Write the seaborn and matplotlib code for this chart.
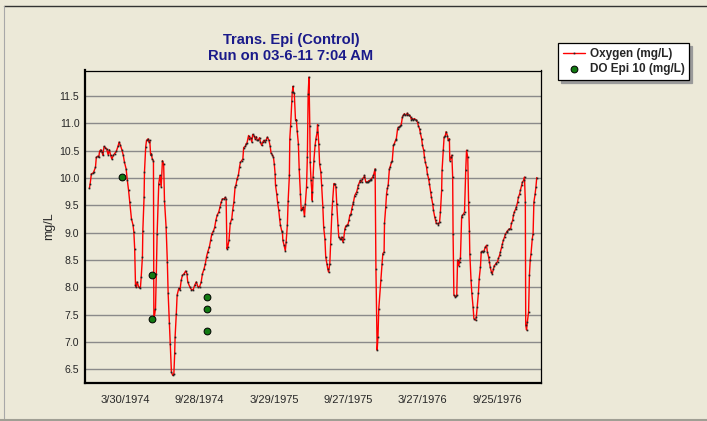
import numpy as np
import pandas as pd
import matplotlib
matplotlib.use("Agg")
import matplotlib.pyplot as plt
import matplotlib.dates as mdates
from matplotlib.lines import Line2D
import seaborn as sns

# ---------------- data ----------------
START = "1974-01-01"

# Oxygen (mg/L): day offset from START, and value
oxygen_days = [
    0, 2, 5, 9, 11, 15, 17, 20, 23, 25, 28, 31, 33, 36, 39, 42, 46, 49, 52, 55,
    59, 62, 66, 70, 73, 76, 80, 83, 86, 90, 93, 96, 99, 103, 107, 109, 111, 113, 115, 117,
    121, 125, 127, 130, 131, 134, 135, 138, 140, 144, 146, 148, 150, 152, 154, 157, 158, 162, 164, 166,
    170, 173, 176, 179, 182, 184, 188, 191, 193, 196, 198, 201, 204, 207, 209, 210, 213, 215, 219, 222,
    225, 228, 232, 236, 239, 241, 246, 250, 254, 258, 262, 266, 270, 274, 277, 281, 284, 287, 290, 294,
    297, 300, 304, 307, 310, 313, 317, 320, 323, 326, 330, 333, 335, 337, 339, 342,
    345, 349, 351, 354, 357, 359, 362, 365, 368, 370, 373, 376, 378, 382, 384, 386, 390, 392, 395, 398,
    400, 403, 406, 409, 411, 414, 417, 419, 422, 425, 427, 430, 433, 436, 440, 443, 445, 448, 451, 453,
    455, 456, 459, 461, 464, 466, 468, 471, 473, 474, 477, 480, 482, 485, 487, 490, 491, 493, 496, 497,
    499, 500, 502, 505, 507, 509, 512, 514, 517, 519, 522, 524, 527, 529, 532, 534, 536, 538, 540, 541,
    543, 545, 546, 548, 550, 553, 555, 558, 559, 562, 564, 567, 569, 572, 574, 577, 579, 582, 584, 586,
    589, 591, 594, 596, 599, 601, 604, 606, 609, 611, 614, 616, 618, 621, 623, 626, 628, 631, 633, 636,
    638, 641, 643, 646, 647, 650, 652, 655, 657, 659, 662, 664, 667, 669, 673, 674, 677, 679, 682, 684,
    687, 689, 691, 694, 696, 699, 700, 702, 705, 707, 709,
    714, 717, 719, 722, 723, 726, 728, 730, 732, 735, 737, 740, 742, 745, 747, 750, 752, 755, 757, 759,
    762, 764, 767, 769, 772, 774, 777, 779, 782, 784, 787, 789, 791, 794, 796, 799, 801, 804, 806, 809,
    811, 814, 816, 819, 821, 823, 826, 828, 831, 833, 836, 838, 841, 843, 846, 848, 850, 853, 855, 858,
    860, 863, 864, 867, 869, 872, 874, 877, 879, 882, 883, 886, 888, 890, 891, 893, 896, 898, 900, 902,
    905, 907, 909, 912, 914, 917, 919, 922, 924, 927, 929, 931, 932, 935, 937, 940, 942, 946, 948, 950,
    953, 955, 958, 960, 962, 964, 967, 970, 973, 975, 978, 980, 982, 985, 987, 990, 992, 995, 997, 1000,
    1002, 1005, 1007, 1010, 1012, 1014, 1017, 1019, 1022, 1024, 1027, 1029, 1032, 1034, 1037, 1039, 1041, 1044, 1046, 1049,
    1051, 1054, 1056, 1059, 1061, 1064, 1066, 1068, 1069, 1071, 1073, 1076, 1078, 1080, 1082, 1085, 1087, 1089, 1092, 1094,
    1096,
]
oxygen_mgl = [
    9.81, 9.90, 10.08, 10.09, 10.12, 10.20, 10.38, 10.40, 10.38, 10.49, 10.52, 10.48, 10.42, 10.58, 10.56, 10.54, 10.43, 10.52, 10.42, 10.35,
    10.42, 10.45, 10.49, 10.58, 10.66, 10.60, 10.51, 10.42, 10.29, 10.17, 9.96, 9.78, 9.56, 9.26, 9.14, 9.01, 8.71, 8.04, 8.00, 8.10,
    8.00, 7.99, 8.19, 8.56, 9.04, 9.65, 10.11, 10.57, 10.69, 10.72, 10.66, 10.69, 10.42, 10.45, 10.35, 10.32, 7.40, 7.61, 8.25, 8.98,
    9.90, 10.05, 9.84, 10.32, 10.26, 9.59, 9.10, 8.47, 7.89, 7.34, 6.97, 6.45, 6.39, 6.42, 6.79, 7.09, 7.52, 7.86, 7.98, 7.95,
    8.13, 8.22, 8.25, 8.30, 8.25, 8.10, 8.01, 7.96, 7.95, 8.04, 8.10, 8.01, 8.01, 8.10, 8.25, 8.34, 8.43, 8.56, 8.65, 8.74,
    8.86, 8.98, 9.03, 9.10, 9.23, 9.32, 9.38, 9.47, 9.56, 9.62, 9.62, 9.65, 9.62, 8.71, 8.74, 8.86,
    9.17, 9.26, 9.41, 9.56, 9.84, 9.87, 9.99, 10.05, 10.21, 10.29, 10.32, 10.35, 10.56, 10.58, 10.63, 10.64, 10.78, 10.72, 10.74, 10.66,
    10.80, 10.78, 10.72, 10.76, 10.69, 10.70, 10.74, 10.66, 10.60, 10.66, 10.69, 10.66, 10.70, 10.75, 10.69, 10.58, 10.46, 10.43, 10.38, 10.26,
    10.08, 9.87, 9.71, 9.56, 9.41, 9.26, 9.14, 9.04, 9.01, 8.86, 8.77, 8.67, 8.83, 9.14, 9.59, 10.05, 10.72, 10.96, 11.42, 11.57,
    11.68, 11.57, 11.55, 11.06, 11.07, 10.87, 10.63, 10.17, 9.71, 9.41, 9.44, 9.47, 9.30, 9.53, 9.84, 10.38, 11.54, 11.85, 10.96, 10.29,
    9.96, 9.75, 9.59, 10.02, 10.32, 10.60, 10.72, 10.84, 10.98, 10.63, 10.26, 10.11, 9.87, 9.47, 9.10, 8.89, 8.56, 8.43, 8.34, 8.28,
    8.43, 8.80, 9.35, 9.59, 9.90, 9.90, 9.84, 9.53, 9.14, 8.92, 8.89, 8.89, 8.92, 8.83, 8.89, 9.07, 9.12, 9.14, 9.14, 9.23,
    9.32, 9.35, 9.44, 9.53, 9.56, 9.68, 9.71, 9.75, 9.81, 9.87, 9.93, 9.96, 9.93, 9.99, 10.02, 10.05, 9.93, 9.93, 9.93, 9.95,
    9.96, 9.97, 9.99, 10.02, 10.05, 10.14, 10.17, 8.34, 6.85, 7.09, 7.61,
    8.13, 8.43, 8.62, 8.65, 9.17, 9.47, 9.71, 9.81, 9.87, 10.17, 10.21, 10.29, 10.32, 10.60, 10.63, 10.69, 10.72, 10.90, 10.93, 10.93,
    10.96, 10.98, 11.12, 11.15, 11.18, 11.15, 11.16, 11.19, 11.15, 11.15, 11.12, 11.07, 11.09, 11.07, 11.09, 11.07, 11.06, 11.02, 10.96, 10.90,
    10.82, 10.72, 10.60, 10.51, 10.38, 10.29, 10.20, 10.08, 9.99, 9.90, 9.75, 9.65, 9.53, 9.41, 9.29, 9.23, 9.17, 9.17, 9.15, 9.20,
    9.38, 9.78, 10.14, 10.51, 10.75, 10.78, 10.85, 10.78, 10.69, 10.72, 10.32, 10.38, 10.42, 10.02, 8.98, 7.86, 7.83, 7.84, 7.86, 8.50,
    8.40, 8.47, 8.53, 9.29, 9.32, 9.35, 9.38, 10.14, 10.51, 10.38, 9.56, 9.04, 8.62, 8.13, 7.89, 7.64, 7.43, 7.40, 7.46, 7.64,
    7.89, 8.16, 8.37, 8.65, 8.66, 8.65, 8.67, 8.74, 8.77, 8.65, 8.56, 8.47, 8.37, 8.28, 8.25, 8.34, 8.40, 8.42, 8.45, 8.47,
    8.53, 8.59, 8.65, 8.74, 8.80, 8.86, 8.92, 8.97, 9.01, 9.03, 9.06, 9.07, 9.07, 9.17, 9.23, 9.32, 9.38, 9.43, 9.47, 9.56,
    9.65, 9.71, 9.78, 9.87, 9.93, 9.96, 10.02, 9.56, 7.31, 7.22, 7.37, 7.55, 8.22, 8.50, 8.62, 8.89, 8.98, 9.56, 9.71, 9.84,
    10.01,
]

# DO Epi 10 (mg/L) grab samples
do_epi_dates = ["1974-03-22", "1974-06-03", "1974-06-03", "1974-10-15", "1974-10-15", "1974-10-15"]
do_epi_mgl = [10.02, 8.22, 7.42, 7.82, 7.61, 7.21]

tick_dates = ["1974-03-30", "1974-09-28", "1975-03-29", "1975-09-27", "1976-03-27", "1976-09-25"]
tick_labels = ["3/30/1974", "9/28/1974", "3/29/1975", "9/27/1975", "3/27/1976", "9/25/1976"]
y_ticks = [6.5, 7.0, 7.5, 8.0, 8.5, 9.0, 9.5, 10.0, 10.5, 11.0, 11.5]
title_lines = ["Trans. Epi (Control)", "Run on 03-6-11 7:04 AM"]
series_labels = ["Oxygen (mg/L)", "DO Epi 10 (mg/L)"]
y_label = "mg/L"

# ---------------- style ----------------
BG = "#ECE9D8"
FONT = ["Liberation Sans", "DejaVu Sans"]
sns.set_style("white")
plt.rcParams["font.family"] = FONT

ox = pd.DataFrame({
    "date": pd.Timestamp(START) + pd.to_timedelta(oxygen_days, unit="D"),
    "value": oxygen_mgl,
})
do = pd.DataFrame({"date": pd.to_datetime(do_epi_dates), "value": do_epi_mgl})

fig = plt.figure(figsize=(7.07, 4.21), dpi=100, facecolor=BG)
W, H = 707, 421
ax = fig.add_axes([85 / W, 1 - 382.7 / H, (541 - 85) / W, (382.7 - 70.5) / H])
ax.set_facecolor(BG)

sns.lineplot(data=ox, x="date", y="value", ax=ax, color="red", linewidth=1.0,
             marker="s", markersize=1.0, markerfacecolor="#222222",
             markeredgecolor="#222222", markeredgewidth=0.15,
             estimator=None, sort=True, label=series_labels[0], zorder=3)
sns.scatterplot(data=do, x="date", y="value", ax=ax, color="#127a12",
                edgecolor="black", linewidth=0.7, s=24, label=series_labels[1], zorder=4)

# axes limits
x0 = mdates.date2num(pd.Timestamp(START))
ax.set_xlim(x0 - 10.7, x0 + 1106.4)
ax.set_ylim(6.255, 11.97)

# x ticks
major = mdates.date2num(pd.to_datetime(tick_dates))
ax.set_xticks(major)
ax.set_xticklabels(tick_labels, fontsize=8)
minor = np.arange(major[0] - 2 * 45.5, x0 + 1106.4, 45.5)
ax.set_xticks(minor, minor=True)
ax.tick_params(axis="x", which="major", direction="out", length=4.5, width=0.8,
               color="#555555", pad=4)
ax.tick_params(axis="x", which="minor", direction="out", length=2.5, width=0.8,
               color="#555555")

# y ticks & grid
ax.set_yticks(y_ticks)
ax.set_yticklabels([f"{v:.1f}" for v in y_ticks], fontsize=7.6)
ax.tick_params(axis="y", direction="out", length=3, width=1.0, color="#808080", pad=1)
ax.yaxis.grid(True, color="#8a8a8a", linewidth=1.0)
ax.xaxis.grid(False)
ax.set_axisbelow(True)

ax.set_xlabel("")
ax.set_ylabel(y_label, fontsize=9, labelpad=3)

for side in ["left", "bottom"]:
    ax.spines[side].set_linewidth(1.6)
    ax.spines[side].set_color("black")
for side in ["top", "right"]:
    ax.spines[side].set_linewidth(0.9)
    ax.spines[side].set_color("black")

# titles
fig.text(291 / W, 1 - 44 / H, title_lines[0], ha="center", va="baseline",
         fontsize=10.6, fontweight="bold", color="#1a1a8a")
fig.text(291 / W, 1 - 60 / H, title_lines[1], ha="center", va="baseline",
         fontsize=10.6, fontweight="bold", color="#1a1a8a")

# legend
leg = ax.legend(loc="upper left", bbox_to_anchor=(558 / W, 1 - 43 / H),
                bbox_transform=fig.transFigure, frameon=True, fancybox=False,
                shadow={"color": "#9a9a9a", "alpha": 1.0},
                facecolor="white", edgecolor="black", framealpha=1,
                prop={"family": FONT, "weight": "bold", "size": 8.5},
                handlelength=1.9, handletextpad=0.4, labelspacing=0.3,
                borderpad=0.4, borderaxespad=0)
leg.get_frame().set_linewidth(0.9)

# panel border lines
fig.add_artist(Line2D([4 / W, 1], [1 - 6 / H, 1 - 6 / H], transform=fig.transFigure,
                      color="#333333", linewidth=1.0))
fig.add_artist(Line2D([4 / W, 4 / W], [1 - 6 / H, 1 - 419 / H], transform=fig.transFigure,
                      color="#a8a8a8", linewidth=0.8))
fig.add_artist(Line2D([0, 1], [1 - 419.5 / H, 1 - 419.5 / H], transform=fig.transFigure,
                      color="#a09f94", linewidth=1.5))

fig.savefig("out.png", dpi=100, facecolor=BG)
